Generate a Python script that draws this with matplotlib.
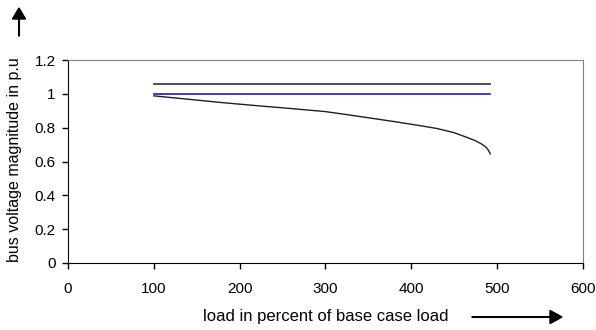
import numpy as np
import matplotlib.pyplot as plt

plt.rcParams['font.family'] = ['Liberation Sans', 'DejaVu Sans']

# load in percent of base case load
load = [100, 140, 180, 220, 260, 300, 340, 380, 410, 430, 450, 465, 475, 482, 487, 490, 492]
# bus voltage (p.u)
voltage = [0.988, 0.968, 0.948, 0.930, 0.913, 0.895, 0.866, 0.836, 0.812, 0.795,
           0.770, 0.742, 0.722, 0.703, 0.685, 0.665, 0.645]
upper_limit = [1.06, 1.06]
nominal = [1.0, 1.0]
limit_load = [100, 492]

fig = plt.figure(figsize=(5.96, 3.30), dpi=100)
ax = fig.add_axes([68 / 596, (330 - 263) / 330, (583 - 68) / 596, (263 - 60) / 330])

ax.plot(limit_load, upper_limit, color='#303030', lw=1.2)
ax.plot(limit_load, nominal, color='#202090', lw=1.2)
ax.plot(load, voltage, color='#202020', lw=1.0)

ax.set_xlim(0, 600)
ax.set_ylim(0, 1.2)
ax.set_xticks([0, 100, 200, 300, 400, 500, 600])
ax.set_yticks([0, 0.2, 0.4, 0.6, 0.8, 1.0, 1.2])
ax.set_yticklabels(['0', '0.2', '0.4', '0.6', '0.8', '1', '1.2'])
ax.tick_params(direction='out', length=4, width=1, labelsize=11, pad=5)
ax.tick_params(axis='x', pad=10)

ax.spines['top'].set_color('#808080')
ax.spines['right'].set_color('#808080')
ax.spines['left'].set_color('black')
ax.spines['bottom'].set_color('black')

fig.text(15 / 596, 1 - 160 / 330, 'bus voltage magnitude in p.u', rotation=90,
         ha='center', va='center', fontsize=11.5)
fig.text(326 / 596, 1 - 316 / 330, 'load in percent of base case load',
         ha='center', va='center', fontsize=12)

# arrows beside the axis titles
fig.patches.append(plt.matplotlib.patches.FancyArrow(
    19 / 596, 1 - 36 / 330, 0, 28 / 330, width=0.0012, head_width=0.022,
    head_length=11 / 330, length_includes_head=True, color='black',
    transform=fig.transFigure, figure=fig))
fig.patches.append(plt.matplotlib.patches.FancyArrow(
    472 / 596, 1 - 317 / 330, 90 / 596, 0, width=0.002, head_width=0.04,
    head_length=12 / 596, length_includes_head=True, color='black',
    transform=fig.transFigure, figure=fig))

fig.savefig('out.png', dpi=100)
